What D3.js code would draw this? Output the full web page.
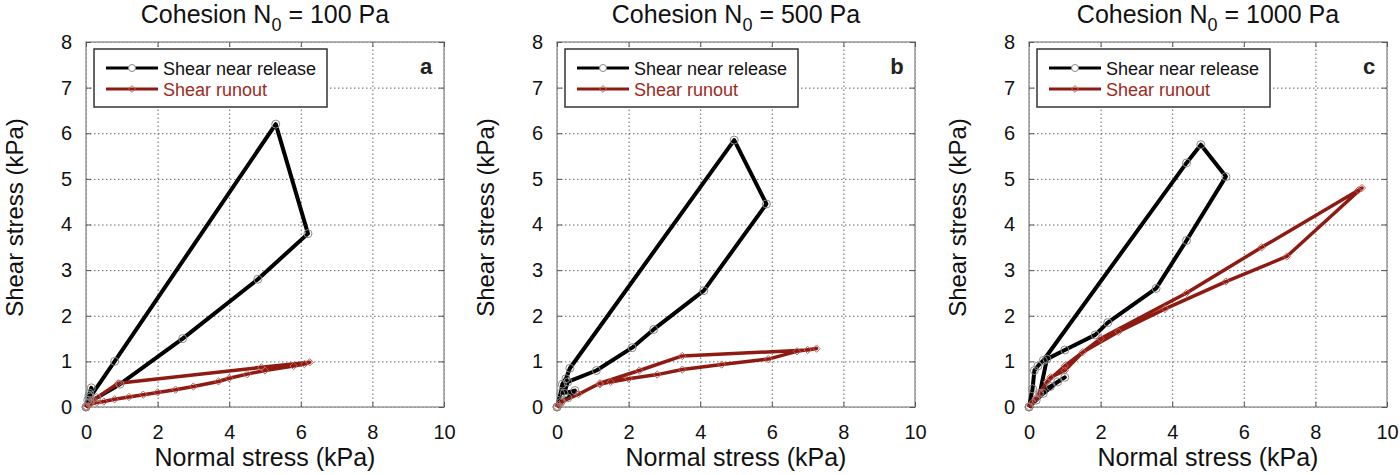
<!DOCTYPE html>
<html>
<head>
<meta charset="utf-8">
<script src="https://cdn.jsdelivr.net/npm/d3@7"></script>
<style>
  body { margin: 0; background: #fff; }
  text { font-family: "Liberation Sans", Arial, Helvetica, sans-serif; }
</style>
</head>
<body>
<div id="chart"></div>
<script>
// Panel titles / letters
const cohesions = ["100", "500", "1000"];
const panelLetters = ["a", "b", "c"];
const seriesNames = ["Shear near release", "Shear runout"];
const xTicks = [0, 2, 4, 6, 8, 10];
const yTicks = [0, 1, 2, 3, 4, 5, 6, 7, 8];

// [normal stress, shear stress] in kPa
const releaseA = [[0, 0], [0.05, 0.15], [0.1, 0.3], [0.15, 0.42], [0.08, 0.25], [0.12, 0.22],
  [0.8, 1.0], [5.3, 6.2], [6.2, 3.8], [4.8, 2.8], [2.7, 1.5], [0.95, 0.5], [0.3, 0.2], [0.1, 0.1], [0, 0]];
const runoutA = [[0, 0], [0.2, 0.15], [0.9, 0.52], [4.9, 0.87], [6.25, 0.98], [6.1, 0.94], [5.8, 0.9],
  [5.0, 0.8], [4.5, 0.72], [4.0, 0.63], [3.7, 0.56], [3.0, 0.45], [2.5, 0.38], [2.0, 0.32], [1.6, 0.27],
  [1.2, 0.22], [0.8, 0.17], [0.5, 0.12], [0.3, 0.1], [0.1, 0.05], [0, 0]];

const releaseB = [[0, 0], [0.1, 0.3], [0.15, 0.5], [0.25, 0.62], [0.36, 0.85], [4.95, 5.85], [5.85, 4.45],
  [4.1, 2.55], [2.7, 1.7], [2.1, 1.3], [1.1, 0.8], [0.3, 0.55], [0.2, 0.3], [0.5, 0.36], [0.3, 0.2],
  [0.1, 0.1], [0, 0]];
const runoutB = [[0, 0], [0.05, 0.05], [0.15, 0.12], [0.6, 0.28], [1.2, 0.52], [2.3, 0.8], [3.5, 1.12],
  [7.0, 1.25], [7.25, 1.28], [6.7, 1.22], [5.9, 1.05], [4.6, 0.93], [3.5, 0.82], [2.8, 0.71], [2.0, 0.62],
  [1.5, 0.55], [1.2, 0.5]];

const releaseC = [[0, 0], [0.1, 0.4], [0.15, 0.8], [0.25, 0.9], [0.4, 1.02], [4.4, 5.35], [4.8, 5.75],
  [5.5, 5.05], [4.4, 3.65], [3.55, 2.6], [2.2, 1.85], [1.85, 1.58], [1.0, 1.25], [0.5, 1.05], [0.3, 0.3],
  [0.6, 0.45], [1.0, 0.65], [0.8, 0.55], [0.4, 0.3], [0.2, 0.15], [0, 0]];
const runoutC = [[0, 0], [0.1, 0.1], [0.3, 0.3], [0.6, 0.65], [1.0, 0.8], [1.5, 1.2], [2.5, 1.65],
  [3.8, 2.15], [5.5, 2.75], [7.2, 3.3], [9.3, 4.8], [9.2, 4.75], [6.5, 3.5], [4.4, 2.5], [2.0, 1.5],
  [1.0, 0.9], [0.5, 0.55], [0.2, 0.2]];

const releaseData = [releaseA, releaseB, releaseC];
const runoutData = [runoutA, runoutB, runoutC];

// Mise en page
const width = 1400, height = 475;
const plotLefts = [86, 557, 1029];
const plotW = 358, plotH = 365, plotTop = 42;
const black = "#000", red = "#8e1b12", redText = "#9b2b22";

const svg = d3.select("#chart").append("svg")
    .attr("width", width)
    .attr("height", height);

const x = d3.scaleLinear().domain([0, 10]).range([0, plotW]);
const y = d3.scaleLinear().domain([0, 8]).range([plotH, 0]);
const line = d3.line().x(d => x(d[0])).y(d => y(d[1]));

plotLefts.forEach((left, i) => {
    const g = svg.append("g").attr("transform", `translate(${left},${plotTop})`);

    // grille pointillée
    g.append("g")
        .attr("transform", `translate(0,${plotH})`)
        .call(d3.axisBottom(x).tickValues(xTicks).tickSize(-plotH).tickFormat(""))
        .call(a => a.select(".domain").remove())
        .selectAll("line")
        .attr("stroke", "#666")
        .attr("stroke-dasharray", "1.5,2.5");
    g.append("g")
        .call(d3.axisLeft(y).tickValues(yTicks).tickSize(-plotW).tickFormat(""))
        .call(a => a.select(".domain").remove())
        .selectAll("line")
        .attr("stroke", "#666")
        .attr("stroke-dasharray", "1.5,2.5");

    // cadre
    g.append("rect")
        .attr("width", plotW)
        .attr("height", plotH)
        .attr("fill", "none")
        .attr("stroke", "#999")
        .attr("stroke-width", 1.5);

    // axes avec graduations vers l'intérieur
    const xAxis = g.append("g")
        .attr("transform", `translate(0,${plotH})`)
        .call(d3.axisBottom(x).tickValues(xTicks).tickSize(-5).tickPadding(18));
    const yAxis = g.append("g")
        .call(d3.axisLeft(y).tickValues(yTicks).tickSize(-5).tickPadding(14));
    g.append("g").call(d3.axisTop(x).tickValues(xTicks).tickSize(-5).tickFormat(""));
    g.append("g").attr("transform", `translate(${plotW},0)`)
        .call(d3.axisRight(y).tickValues(yTicks).tickSize(-5).tickFormat(""));
    g.selectAll(".domain").remove();
    g.selectAll(".tick line").filter(function () { return !this.getAttribute("stroke-dasharray"); })
        .attr("stroke", "#555");
    [xAxis, yAxis].forEach(a => a.selectAll("text")
        .style("font-size", "20px")
        .attr("fill", "#111"));

    // courbes
    g.append("path")
        .datum(releaseData[i])
        .attr("d", line)
        .attr("fill", "none")
        .attr("stroke", black)
        .attr("stroke-width", 4)
        .attr("stroke-linejoin", "round");
    g.append("path")
        .datum(runoutData[i])
        .attr("d", line)
        .attr("fill", "none")
        .attr("stroke", red)
        .attr("stroke-width", 3.5)
        .attr("stroke-linejoin", "round");

    g.selectAll(".mk-c")
        .data(releaseData[i])
        .join("circle")
        .attr("cx", d => x(d[0]))
        .attr("cy", d => y(d[1]))
        .attr("r", 4)
        .attr("fill", "none")
        .attr("stroke", "#888")
        .attr("stroke-width", 1);
    g.selectAll(".mk-d")
        .data(runoutData[i])
        .join("path")
        .attr("d", d3.symbol(d3.symbolDiamond2, 34))
        .attr("transform", d => `translate(${x(d[0])},${y(d[1])})`)
        .attr("fill", "none")
        .attr("stroke", "#c0625a")
        .attr("stroke-width", 1);

    // légende
    const lg = g.append("g").attr("transform", "translate(8,7)");
    lg.append("rect")
        .attr("width", 233)
        .attr("height", 58)
        .attr("fill", "#fff")
        .attr("stroke", "#333")
        .attr("stroke-width", 1.5);
    seriesNames.forEach((name, k) => {
        const ly = 19 + k * 21;
        const col = k === 0 ? black : red;
        lg.append("line")
            .attr("x1", 12).attr("x2", 64)
            .attr("y1", ly).attr("y2", ly)
            .attr("stroke", col)
            .attr("stroke-width", 3);
        if (k === 0) {
            lg.append("circle").attr("cx", 38).attr("cy", ly).attr("r", 3.5)
                .attr("fill", "#fff").attr("stroke", "#888");
        } else {
            lg.append("path").attr("d", d3.symbol(d3.symbolDiamond2, 30))
                .attr("transform", `translate(38,${ly})`)
                .attr("fill", "none").attr("stroke", "#c0625a");
        }
        lg.append("text")
            .attr("x", 69)
            .attr("y", ly + 7)
            .style("font-size", "18px")
            .attr("fill", k === 0 ? "#111" : redText)
            .text(name);
    });

    // lettre du panneau
    g.append("text")
        .attr("x", plotW - 18)
        .attr("y", 32)
        .attr("text-anchor", "middle")
        .style("font-size", "22px")
        .style("font-weight", "bold")
        .attr("fill", "#222")
        .text(panelLetters[i]);

    // titre
    const t = svg.append("text")
        .attr("x", left + plotW / 2)
        .attr("y", 23)
        .attr("text-anchor", "middle")
        .style("font-size", "25px")
        .attr("fill", "#111");
    t.append("tspan").text("Cohesion N");
    t.append("tspan").attr("dy", 8).style("font-size", "18px").text("0");
    t.append("tspan").attr("dy", -8).text(` = ${cohesions[i]} Pa`);

    // titres des axes
    svg.append("text")
        .attr("x", left + plotW / 2)
        .attr("y", 466)
        .attr("text-anchor", "middle")
        .style("font-size", "25px")
        .attr("fill", "#111")
        .text("Normal stress (kPa)");
    svg.append("text")
        .attr("transform", `translate(${left - 63},${plotTop + plotH / 2 - 7}) rotate(-90)`)
        .attr("text-anchor", "middle")
        .style("font-size", "24px")
        .attr("fill", "#111")
        .text("Shear stress (kPa)");
});
</script>
</body>
</html>
